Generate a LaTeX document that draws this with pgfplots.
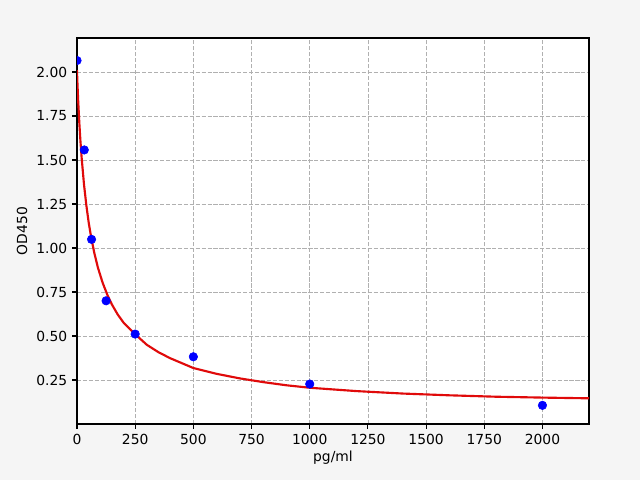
\documentclass[border=0pt]{standalone}
\usepackage{fontspec}
\setmainfont{DejaVu Sans}
\usepackage{pgfplots}
\pgfplotsset{compat=1.18}

\definecolor{figbg}{HTML}{F5F5F5}
\definecolor{gridgray}{HTML}{B0B0B0}
\definecolor{fitred}{HTML}{E00A0A}

% standard points
\pgfplotstableread{
x y
0 2.065
31.25 1.557
62.5 1.049
125 0.700
250 0.511
500 0.382
1000 0.227
2000 0.106
}\stddata

% fitted curve
\pgfplotstableread{
x y
0 2.010
0.5 1.988
1 1.968
2 1.933
5 1.839
10 1.710
15 1.603
20 1.512
30 1.362
40 1.244
50 1.147
60 1.067
75 0.968
90 0.888
110 0.803
130 0.735
150 0.679
175 0.622
200 0.576
250 0.510
300 0.450
350 0.408
400 0.374
500 0.318
600 0.285
700 0.259
800 0.238
900 0.220
1000 0.206
1200 0.187
1400 0.173
1600 0.163
1800 0.155
2000 0.150
2200 0.146
}\fitdata

\begin{document}
\fontsize{10.4}{12.5}\selectfont
\begin{tikzpicture}
\fill[figbg] (0,0) rectangle (480pt,360pt);
\begin{axis}[
  at={(57.75pt,42pt)}, anchor=south west,
  scale only axis, width=384pt, height=289.5pt,
  xmin=0, xmax=2200, ymin=0, ymax=2.193,
  xtick={0,250,...,2000},
  ytick={0.25,0.5,...,2.0},
  axis background/.style={fill=white},
  axis line style={line width=0.8pt},
  tick align=outside, tick pos=left,
  major tick length=3.65pt,
  tick style={black, line width=0.8pt},
  grid=major,
  major grid style={gridgray, line width=0.6pt, dash pattern=on 3.1pt off 1.35pt},
  /pgf/number format/assume math mode=true,
  /pgf/number format/1000 sep={},
  yticklabel style={/pgf/number format/fixed, /pgf/number format/fixed zerofill, /pgf/number format/precision=2},
  xlabel={pg/ml}, ylabel={OD450},
  every axis x label/.style={at={(axis description cs:0.5,0)}, anchor=center, yshift=-25.5pt},
  every axis y label/.style={at={(axis description cs:0,0.5)}, anchor=center, rotate=90, yshift=41.25pt},
  clip marker paths=true,
]
\addplot[fitred, line width=1.6pt, no markers] table[x=x, y=y] {\fitdata};
\addplot[only marks, mark=*, mark size=3.2pt, blue, mark options={draw=blue, fill=blue}] table[x=x, y=y] {\stddata};
\end{axis}
\end{tikzpicture}
\end{document}
